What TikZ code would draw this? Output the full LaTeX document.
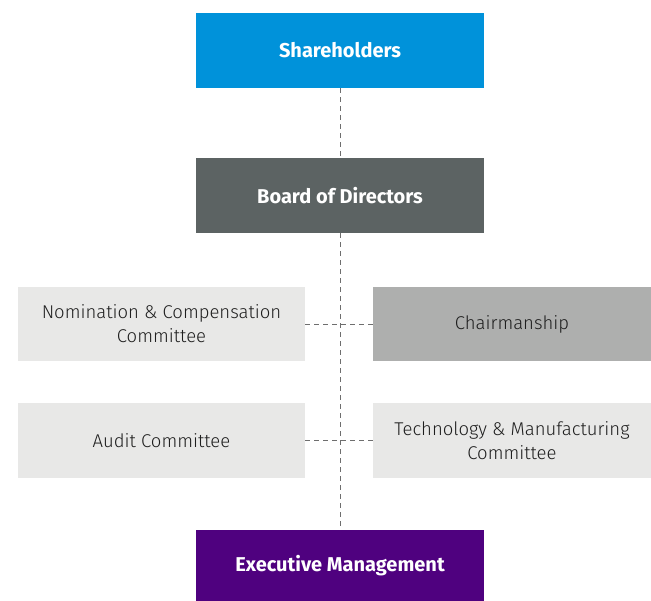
\documentclass[tikz,border=0pt]{standalone}
\usepackage{fontspec}
\setmainfont{Fira Sans}
\newfontfamily\lightfont{Fira Sans Light}
\begin{document}
\begin{tikzpicture}[x=1pt,y=-1pt,
  box/.style={rectangle, inner sep=0pt, align=center, font=\lightfont\fontsize{18.5}{24}\selectfont},
  topbox/.style={rectangle, inner sep=0pt, align=center, text=white, font=\fontsize{20}{24}\selectfont\bfseries},
  lightbox/.style={box, fill=boxlight, text=textdark},
  conn/.style={draw=lineg, line width=0.9pt, dash pattern=on 5pt off 4pt}]
\definecolor{shblue}{HTML}{0092DA}
\definecolor{bdgray}{HTML}{5C6363}
\definecolor{boxlight}{HTML}{E8E8E7}
\definecolor{chgray}{HTML}{AEAFAE}
\definecolor{textdark}{HTML}{1E1E1E}
\definecolor{empurple}{HTML}{4F017F}
\definecolor{lineg}{HTML}{6E6E6E}
\useasboundingbox (0,0) rectangle (651,601);
\node[topbox, fill=shblue, minimum width=288pt, minimum height=75pt] (sh) at (340,50.5) {Shareholders};
\node[topbox, fill=bdgray, minimum width=288pt, minimum height=75pt] (bd) at (340,195.5) {Board of Directors};
\node[lightbox, minimum width=287pt, minimum height=74pt] (nc) at (161.5,324) {Nomination \& Compensation\\Committee};
\node[box, fill=chgray, text=textdark, minimum width=278pt, minimum height=74pt] (ch) at (512,324) {Chairmanship};
\node[lightbox, minimum width=287pt, minimum height=75pt] (au) at (161.5,440.5) {Audit Committee};
\node[lightbox, minimum width=278pt, minimum height=75pt] (tm) at (512,440.5) {Technology \& Manufacturing\\Committee};
\node[topbox, fill=empurple, minimum width=288pt, minimum height=71pt] (em) at (340,565.5) {Executive Management};
\draw[conn] (sh.south) -- (bd.north);
\draw[conn] (bd.south) -- (em.north);
\draw[conn] (nc.east) -- (ch.west);
\draw[conn] (au.east) -- (tm.west);
\end{tikzpicture}
\end{document}
